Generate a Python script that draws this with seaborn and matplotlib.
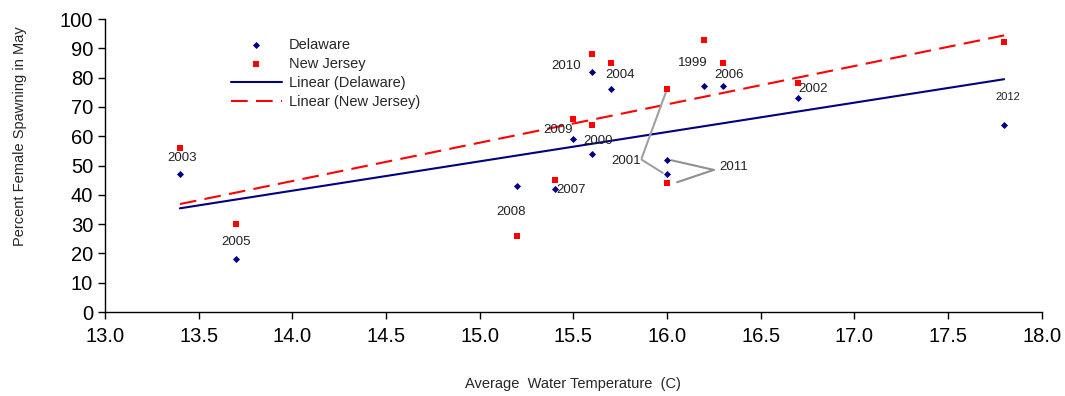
import numpy as np
import pandas as pd
import matplotlib
matplotlib.use("Agg")
import matplotlib.pyplot as plt
import seaborn as sns

years = [1999, 2000, 2001, 2002, 2003, 2004, 2005, 2006, 2007, 2008, 2009, 2010, 2011, 2012]
temp = [16.2, 15.6, 16.0, 16.7, 13.4, 15.7, 13.7, 16.3, 15.4, 15.2, 15.5, 15.6, 16.0, 17.8]
delaware = [77, 54, 47, 73, 47, 76, 18, 77, 42, 43, 59, 82, 52, 64]
new_jersey = [93, 64, 76, 78, 56, 85, 30, 85, 45, 26, 66, 88, 44, 92]

# label positions (x, y) for year labels
label_pos = {
    1999: (16.14, 85), 2000: (15.63, 58.5), 2002: (16.78, 76), 2003: (13.41, 52.5),
    2004: (15.75, 81), 2005: (13.70, 24), 2006: (16.33, 81), 2007: (15.49, 41.5),
    2008: (15.17, 34), 2009: (15.42, 62), 2010: (15.46, 84), 2012: (17.82, 73.5),
}

df = pd.DataFrame({"year": years, "temp": temp, "Delaware": delaware, "New Jersey": new_jersey})

sns.set_style("white")
plt.rcParams["font.family"] = ["Liberation Sans", "DejaVu Sans"]

fig, ax = plt.subplots(figsize=(10.65, 3.96), dpi=100)
fig.subplots_adjust(left=0.0986, right=0.978, top=0.952, bottom=0.212)

sns.scatterplot(data=df, x="temp", y="Delaware", marker="D", s=13, color="#000080",
                edgecolor="#000080", linewidth=0, ax=ax, label="Delaware", zorder=4)
sns.scatterplot(data=df, x="temp", y="New Jersey", marker="s", s=22, color="#ff0000",
                edgecolor="#ff0000", linewidth=0, ax=ax, label="New Jersey", zorder=4)
sns.regplot(data=df, x="temp", y="Delaware", scatter=False, ci=None, truncate=True,
            line_kws={"color": "#000080", "lw": 1.5}, ax=ax, label="Linear (Delaware)")
sns.regplot(data=df, x="temp", y="New Jersey", scatter=False, ci=None, truncate=True,
            line_kws={"color": "#ff0000", "lw": 1.5, "ls": (0, (8, 4))}, ax=ax,
            label="Linear (New Jersey)")

for yr, (lx, ly) in label_pos.items():
    fs = 8 if yr == 2012 else 9.5
    ax.text(lx, ly, str(yr), fontsize=fs, ha="center", va="center", color="#222222")

# leader lines for overlapping years
ax.text(15.86, 51.5, "2001", fontsize=9.5, ha="right", va="center", color="#222222")
ax.annotate("", xy=(16.0, 76), xytext=(15.865, 52.5),
            arrowprops=dict(arrowstyle="-", color="#a0a0a0", lw=1.5, shrinkA=0, shrinkB=2))
ax.annotate("", xy=(15.99, 47), xytext=(15.865, 52.0),
            arrowprops=dict(arrowstyle="-", color="#a0a0a0", lw=1.5, shrinkA=0, shrinkB=2))
ax.text(16.28, 49.5, "2011", fontsize=9.5, ha="left", va="center", color="#222222")
ax.annotate("", xy=(16.01, 52), xytext=(16.25, 48.5),
            arrowprops=dict(arrowstyle="-", color="#909090", lw=1.5, shrinkA=0, shrinkB=2))
ax.annotate("", xy=(16.04, 44), xytext=(16.25, 48.5),
            arrowprops=dict(arrowstyle="-", color="#909090", lw=1.5, shrinkA=0, shrinkB=2))

ax.set_xlim(13.0, 18.0)
ax.set_ylim(0, 100)
ax.set_xticks(np.arange(13.0, 18.01, 0.5))
ax.set_xticklabels([f"{v:.1f}" for v in np.arange(13.0, 18.01, 0.5)])
ax.set_yticks(range(0, 101, 10))
ax.tick_params(axis="both", labelsize=14.5, direction="out", length=5, width=1,
               colors="black", left=True, bottom=True)
ax.tick_params(axis="x", pad=6)
sns.despine(ax=ax)
for sp in ["left", "bottom"]:
    ax.spines[sp].set_color("#000000")
    ax.spines[sp].set_linewidth(1)

ax.set_xlabel("Average  Water Temperature  (C)", fontsize=10.5, labelpad=22)
ax.set_ylabel("Percent Female Spawning in May", fontsize=10.5)
ax.yaxis.set_label_coords(-0.083, 0.60)

ax.legend(loc="upper left", bbox_to_anchor=(0.12, 0.98), frameon=False, fontsize=10.5,
          handlelength=3.5, labelspacing=0.35, handletextpad=0.5)

fig.savefig("out.png", dpi=100)
